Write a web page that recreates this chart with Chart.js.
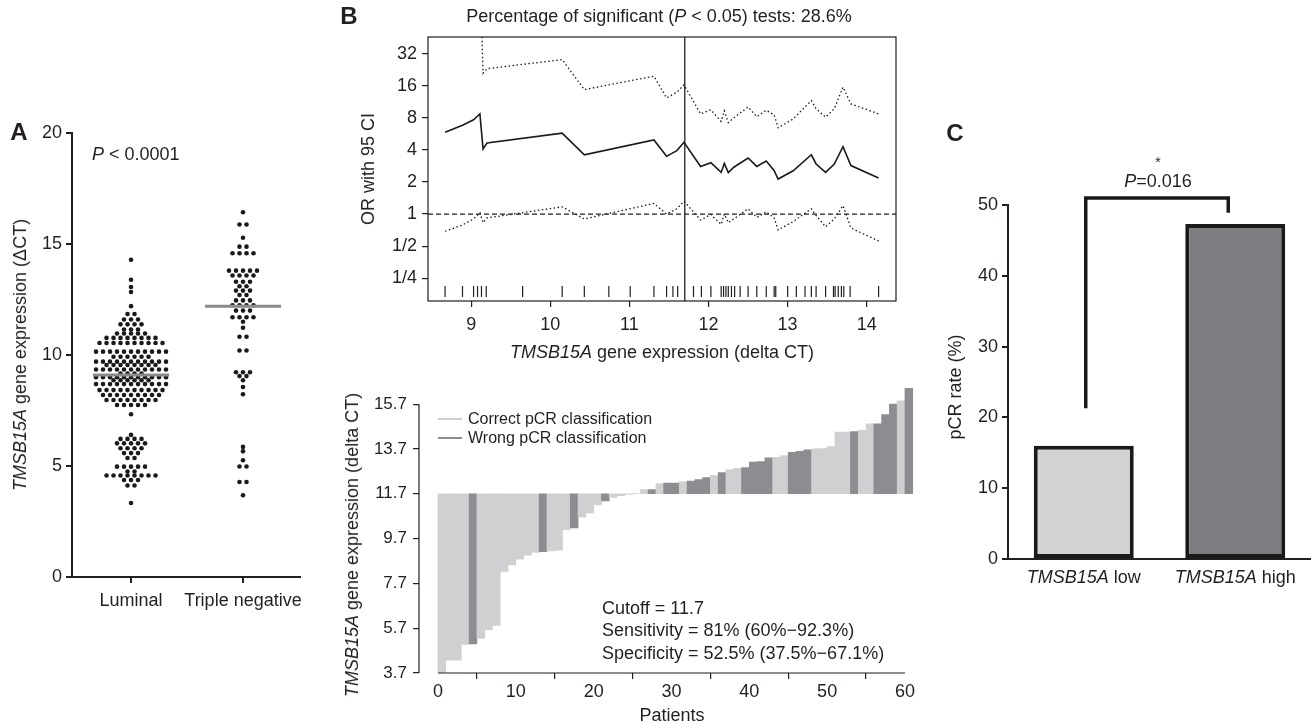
<!DOCTYPE html>
<html>
<head>
<meta charset="utf-8">
<script src="https://cdn.jsdelivr.net/npm/chart.js@4"></script>
<style>
  body { margin: 0; background: #fff; }
  #fig { position: relative; width: 1311px; height: 724px; overflow: hidden; font-family: "Liberation Sans", Arial, sans-serif; color: #231f20; }
  .box { position: absolute; }
  .t { position: absolute; white-space: nowrap; font-size: 18px; line-height: 1; transform: translate(-50%, -50%); z-index: 2; }
  .t.l { transform: translate(0, -50%); }
  .t.rot { transform: translate(-50%, -50%) rotate(-90deg); }
  .panel { font-weight: bold; font-size: 24px; }
  .leg { position: absolute; width: 24px; height: 2px; z-index: 2; }
</style>
</head>
<body>
<div id="fig">
  <div class="box" style="left:0;top:110px;width:320px;height:510px"><canvas id="chartA"></canvas></div>
  <div class="box" style="left:330px;top:0;width:600px;height:370px"><canvas id="chartOR"></canvas></div>
  <div class="box" style="left:330px;top:370px;width:600px;height:354px"><canvas id="chartWaterfall"></canvas></div>
  <div class="box" style="left:940px;top:110px;width:371px;height:500px"><canvas id="chartC"></canvas></div>

  <div class="t panel" style="left:19px;top:132px">A</div>
  <div class="t l" style="left:92px;top:154px"><i>P</i> &lt; 0.0001</div>
  <div class="t rot" style="left:20px;top:355px"><i>TMSB15A</i> gene expression (ΔCT)</div>

  <div class="t panel" style="left:349px;top:16px">B</div>
  <div class="t" style="left:659px;top:16px">Percentage of significant (<i>P</i> &lt; 0.05) tests: 28.6%</div>
  <div class="t rot" style="left:368px;top:169px">OR with 95 CI</div>
  <div class="t" style="left:662px;top:352px"><i>TMSB15A</i> gene expression (delta CT)</div>

  <div class="leg" style="left:438px;top:418px;background:#d0d0d2"></div>
  <div class="t l" style="left:468px;top:419px;font-size:16px">Correct pCR classification</div>
  <div class="leg" style="left:438px;top:437px;background:#8c8c91"></div>
  <div class="t l" style="left:468px;top:438px;font-size:16px">Wrong pCR classification</div>
  <div class="t l" style="left:602px;top:608px">Cutoff = 11.7</div>
  <div class="t l" style="left:602px;top:630px">Sensitivity = 81% (60%−92.3%)</div>
  <div class="t l" style="left:602px;top:653px">Specificity = 52.5% (37.5%−67.1%)</div>
  <div class="t rot" style="left:352px;top:545px"><i>TMSB15A</i> gene expression (delta CT)</div>
  <div class="t" style="left:672px;top:715px">Patients</div>

  <div class="t panel" style="left:955px;top:133px">C</div>
  <div class="t" style="left:1158px;top:162px;font-size:14px">*</div>
  <div class="t" style="left:1158px;top:181px"><i>P</i>=0.016</div>
  <div class="t rot" style="left:955px;top:387px">pCR rate (%)</div>
</div>

<script>
// ---- panel A: dot plot per subtype ----
const groupNames = ['Luminal', 'Triple negative'];
const luminalValues = [
  14.29, 13.39, 13.06, 12.84, 12.2,
  11.85, 11.85,
  11.6, 11.6, 11.6,
  11.38, 11.38, 11.38, 11.38,
  11.15, 11.15, 11.15,
  10.97, 10.97, 10.97, 10.97, 10.97,
  10.77, 10.77, 10.77, 10.77, 10.77, 10.77, 10.77, 10.77,
  10.54, 10.54, 10.54, 10.54, 10.54, 10.54, 10.54, 10.54, 10.54, 10.54,
  10.15, 10.15, 10.15, 10.15, 10.15, 10.15, 10.15, 10.15, 10.15, 10.15, 10.15,
  9.92, 9.92, 9.92, 9.92, 9.92, 9.92,
  9.7, 9.7, 9.7, 9.7, 9.7, 9.7, 9.7, 9.7, 9.7, 9.7, 9.7,
  9.55, 9.55, 9.55, 9.55, 9.55, 9.55, 9.55, 9.55,
  9.35, 9.35, 9.35, 9.35, 9.35, 9.35, 9.35, 9.35, 9.35, 9.35, 9.35,
  9.17, 9.17, 9.17, 9.17,
  9.0, 9.0, 9.0, 9.0, 9.0, 9.0, 9.0, 9.0, 9.0, 9.0, 9.0,
  8.86, 8.86, 8.86, 8.86, 8.86, 8.86,
  8.69, 8.69, 8.69, 8.69, 8.69, 8.69, 8.69, 8.69, 8.69, 8.69, 8.69,
  8.42, 8.42, 8.42, 8.42, 8.42, 8.42, 8.42, 8.42, 8.42, 8.42,
  8.2, 8.2, 8.2, 8.2, 8.2, 8.2, 8.2, 8.2, 8.2,
  7.97, 7.97, 7.97, 7.97, 7.97, 7.97, 7.97, 7.97,
  7.75, 7.75, 7.75, 7.75, 7.75,
  7.33,
  6.4,
  6.22, 6.22, 6.22, 6.22,
  6.02, 6.02, 6.02, 6.02, 6.02,
  5.8, 5.8, 5.8, 5.8,
  5.58, 5.58, 5.58,
  5.36, 5.36,
  4.97, 4.97, 4.97, 4.97, 4.97,
  4.75, 4.75,
  4.57, 4.57, 4.57, 4.57, 4.57, 4.57, 4.57, 4.57,
  4.37, 4.37, 4.37,
  4.12, 4.12,
  3.33
];
const tripleNegValues = [
  16.43, 15.88, 15.88, 15.28, 14.88, 14.88,
  14.58, 14.58, 14.58, 14.58,
  13.8, 13.8, 13.8, 13.8, 13.8,
  13.58, 13.58, 13.58, 13.58,
  13.3, 13.3, 13.3,
  13.1, 13.1,
  12.9, 12.9, 12.9,
  12.7, 12.7,
  12.46, 12.46, 12.46,
  12.24, 12.24, 12.24, 12.24,
  12.0, 12.0, 12.0,
  11.7, 11.7, 11.7, 11.7,
  11.5,
  11.23,
  10.82, 10.82,
  10.2, 10.2,
  9.22, 9.22, 9.22,
  9.05, 9.05,
  8.86, 8.56, 8.23,
  5.86, 5.66, 5.26,
  4.98, 4.98,
  4.28, 4.28,
  3.68
];
const groupMedians = [9.1, 12.2];
const deltaCtTicks = [0, 5, 10, 15, 20];

// ---- panel B (top): OR per cutpoint ----
const cutpoints = [8.67, 8.89, 9.03, 9.11, 9.15, 9.2, 10.15, 10.43, 11.31, 11.47, 11.6, 11.69, 11.9, 12.03, 12.16, 12.2,
  12.25, 12.32, 12.5, 12.61, 12.73, 12.83, 12.88, 13.07, 13.3, 13.36, 13.48, 13.59, 13.7, 13.8, 14.15];
const oddsRatio = [5.86, 6.8, 7.66, 8.7, 4.09, 4.64, 5.74, 3.6, 4.96, 3.48, 3.94, 4.72, 2.79, 3.03, 2.46, 2.99,
  2.45, 2.75, 3.36, 2.8, 3.14, 2.55, 2.13, 2.55, 3.6, 2.95, 2.46, 2.95, 4.29, 2.85, 2.18];
const upperCI = [null, null, null, 200, 21, 23.1, 28.1, 14.7, 19.6, 12.3, 13.9, 16.3, 8.7, 9.5, 7.4, 9.3,
  7.2, 8.0, 10.1, 8.2, 9.4, 8.5, 6.45, 7.8, 11.6, 9.7, 8.1, 9.7, 15.5, 10.8, 8.7];
const lowerCI = [0.69, 0.79, 0.9, 1.03, 0.83, 0.92, 1.17, 0.9, 1.26, 1.0, 1.12, 1.32, 0.88, 0.99, 0.8, 1.0,
  0.83, 0.9, 1.12, 0.93, 1.05, 0.92, 0.71, 0.85, 1.12, 0.97, 0.76, 0.9, 1.2, 0.74, 0.56];
const rugValues = [8.67, 8.89, 9.03, 9.08, 9.13, 9.19, 9.65, 10.15, 10.43, 10.74, 11.01, 11.31, 11.47, 11.55, 11.61,
  11.81, 11.91, 12.03, 12.16, 12.19, 12.22, 12.25, 12.29, 12.33, 12.4, 12.5, 12.61, 12.73, 12.83, 12.85, 13.0,
  13.11, 13.22, 13.3, 13.36, 13.48, 13.58, 13.6, 13.64, 13.68, 13.71, 13.79, 14.15];
const orTicks = [0.25, 0.5, 1, 2, 4, 8, 16, 32];
const orTickLabels = ['1/4', '1/2', '1', '2', '4', '8', '16', '32'];
const exprTicks = [9, 10, 11, 12, 13, 14];
const cutoff = 11.7;

// ---- panel B (bottom): waterfall per patient ----
const patientExpr = [3.73, 4.27, 4.27, 4.97, 5.0, 5.24, 5.63, 5.82, 8.23, 8.52, 8.78, 8.96, 9.08, 9.12, 9.15, 9.18,
  10.1, 10.18, 10.65, 10.84, 11.2, 11.38, 11.54, 11.61, 11.67, 11.71, 11.89, 11.89, 12.15, 12.18, 12.18, 12.23,
  12.27, 12.33, 12.42, 12.52, 12.64, 12.78, 12.84, 12.87, 13.11, 13.14, 13.3, 13.33, 13.4, 13.55, 13.59, 13.66,
  13.71, 13.72, 13.8, 14.45, 14.45, 14.48, 14.53, 14.82, 14.82, 15.23, 15.7, 15.85, 16.4];
const wrongPatients = [4, 13, 17, 21, 27, 29, 30, 32, 33, 34, 36, 39, 40, 41, 42, 45, 46, 47, 53, 56, 57, 58, 60];
const waterfallTicks = [3.7, 5.7, 7.7, 9.7, 11.7, 13.7, 15.7];
const patientTicks = [0, 10, 20, 30, 40, 50, 60];

// ---- panel C: pCR rate ----
const pcrGroups = ['low', 'high'];
const pcrRate = [16.0, 47.3];
const pcrTicks = [0, 10, 20, 30, 40, 50];
const bracketLevels = [21.3, 51, 48.9];

const INK = '#231f20';
const LIGHT = '#d0d0d2';
const DARK = '#8c8c91';
const FONT = '"Liberation Sans", Arial, sans-serif';

Chart.defaults.font.family = FONT;
Chart.defaults.font.size = 18;
Chart.defaults.color = INK;
Chart.defaults.animation = false;
Chart.defaults.plugins.legend.display = false;
Chart.defaults.plugins.tooltip.enabled = false;

function fixWidth(w) { return scale => { scale.width = w; }; }
function fixHeight(h) { return scale => { scale.height = h; }; }
function setTicks(values) { return scale => { scale.ticks = values.map(v => ({ value: v })); }; }
function tickMarks(width) {
  return { drawOnChartArea: false, drawTicks: true, tickLength: 6, color: INK, lineWidth: width };
}

// row swarm: equal values side by side, 7px apart
function swarmPoints(values, center, xScale, spacing) {
  const counts = new Map();
  values.forEach(v => counts.set(v, (counts.get(v) || 0) + 1));
  const cx = xScale.getPixelForValue(center);
  const pts = [];
  counts.forEach((n, v) => {
    for (let k = 0; k < n; k++) {
      pts.push({ x: xScale.getValueForPixel(cx + (k - (n - 1) / 2) * spacing), y: v });
    }
  });
  return pts;
}

// ---------- A ----------
const chartA = new Chart(document.getElementById('chartA'), {
  type: 'scatter',
  data: {
    datasets: [
      ...groupMedians.map((m, i) => ({
        data: [{ x: i + 1 - 0.34, y: m }, { x: i + 1 + 0.34, y: m }],
        showLine: true, borderColor: '#8a8a8c', borderWidth: 3, pointRadius: 0
      })),
      { data: luminalValues.map(v => ({ x: 1, y: v })), pointRadius: 2.3, backgroundColor: '#1a1a1a', borderWidth: 0 },
      { data: tripleNegValues.map(v => ({ x: 2, y: v })), pointRadius: 2.3, backgroundColor: '#1a1a1a', borderWidth: 0 }
    ]
  },
  options: {
    responsive: true, maintainAspectRatio: false,
    layout: { padding: { left: 0, top: 23, right: 20, bottom: 0 } },
    scales: {
      x: {
        type: 'linear', min: 0.473, max: 2.509,
        afterBuildTicks: setTicks([1, 2]), afterFit: fixHeight(43),
        ticks: { padding: 7, callback: (v, i) => groupNames[i] },
        grid: tickMarks(2), border: { display: true, color: INK, width: 2 }
      },
      y: {
        min: 0, max: 20,
        afterBuildTicks: setTicks(deltaCtTicks), afterFit: fixWidth(72),
        ticks: { padding: 4 },
        grid: tickMarks(2), border: { display: true, color: INK, width: 2 }
      }
    }
  }
});
chartA.data.datasets[2].data = swarmPoints(luminalValues, 1, chartA.scales.x, 7);
chartA.data.datasets[3].data = swarmPoints(tripleNegValues, 2, chartA.scales.x, 7);
chartA.update('none');

// ---------- B top ----------
const orXMin = 8.454, orXMax = 14.37, orYMin = 0.153, orYMax = 45.8;
const rugLevel = 0.188;
const boxPlugin = {
  id: 'box',
  afterDraw(chart) {
    const { ctx, chartArea: a } = chart;
    ctx.save();
    ctx.strokeStyle = INK;
    ctx.lineWidth = 1.2;
    ctx.strokeRect(a.left, a.top, a.right - a.left, a.bottom - a.top);
    ctx.restore();
  }
};
const seriesLine = (values, dash, width) => ({
  data: cutpoints.map((x, i) => ({ x, y: values[i] })),
  showLine: true, borderColor: '#1a1a1a', borderWidth: width, borderDash: dash,
  pointRadius: 0, spanGaps: false
});
new Chart(document.getElementById('chartOR'), {
  type: 'scatter',
  data: {
    datasets: [
      seriesLine(oddsRatio, [], 1.6),
      seriesLine(upperCI, [1.5, 2.5], 1.3),
      seriesLine(lowerCI, [1.5, 2.5], 1.3),
      { data: [{ x: cutoff, y: orYMin }, { x: cutoff, y: orYMax }], showLine: true, borderColor: INK, borderWidth: 1.3, pointRadius: 0 },
      { data: [{ x: orXMin, y: 1 }, { x: orXMax, y: 1 }], showLine: true, borderColor: INK, borderWidth: 1.2, borderDash: [5, 3], pointRadius: 0 },
      { data: rugValues.map(x => ({ x, y: rugLevel })), pointStyle: 'line', rotation: 90, radius: 5.5, borderColor: INK, borderWidth: 1.2 }
    ]
  },
  options: {
    responsive: true, maintainAspectRatio: false,
    layout: { padding: { left: 0, top: 37, right: 34, bottom: 0 } },
    scales: {
      x: {
        type: 'linear', min: orXMin, max: orXMax,
        afterBuildTicks: setTicks(exprTicks), afterFit: fixHeight(69),
        ticks: { padding: 7 },
        grid: tickMarks(1.2), border: { display: false }
      },
      y: {
        type: 'logarithmic', min: orYMin, max: orYMax,
        afterBuildTicks: setTicks(orTicks), afterFit: fixWidth(98),
        ticks: { padding: 5, autoSkip: false, callback: (v, i) => orTickLabels[i] },
        grid: tickMarks(1.2), border: { display: false }
      }
    }
  },
  plugins: [boxPlugin]
});

// ---------- B bottom ----------
const rAxesPlugin = {
  id: 'rAxes',
  afterDraw(chart) {
    const { ctx, chartArea: a, scales: { x, y } } = chart;
    ctx.save();
    ctx.strokeStyle = INK;
    ctx.lineWidth = 1.2;
    ctx.beginPath();
    ctx.moveTo(a.left, y.getPixelForValue(waterfallTicks[0]));
    ctx.lineTo(a.left, y.getPixelForValue(waterfallTicks[waterfallTicks.length - 1]));
    ctx.moveTo(x.getPixelForValue(patientTicks[0]), a.bottom);
    ctx.lineTo(x.getPixelForValue(patientTicks[patientTicks.length - 1]), a.bottom);
    ctx.stroke();
    ctx.restore();
  }
};
new Chart(document.getElementById('chartWaterfall'), {
  type: 'bar',
  data: {
    datasets: [{
      data: patientExpr.map((v, i) => ({ x: i + 0.5, y: [cutoff, v] })),
      backgroundColor: patientExpr.map((v, i) => wrongPatients.includes(i) ? DARK : LIGHT),
      borderWidth: 0, barPercentage: 1, categoryPercentage: 1
    }]
  },
  options: {
    responsive: true, maintainAspectRatio: false,
    layout: { padding: { left: 0, top: 11, right: 15, bottom: 0 } },
    scales: {
      x: {
        type: 'linear', min: -2.44, max: 61.29, offset: false,
        afterBuildTicks: setTicks(patientTicks), afterFit: fixHeight(51),
        ticks: { padding: 2 },
        grid: tickMarks(1.2), border: { display: false }
      },
      y: {
        min: 3.7, max: 16.5,
        afterBuildTicks: setTicks(waterfallTicks), afterFit: fixWidth(89),
        ticks: { padding: 6, font: { size: 17 }, callback: v => v.toFixed(1) },
        grid: tickMarks(1.2), border: { display: false }
      }
    }
  },
  plugins: [rAxesPlugin]
});

// ---------- C ----------
const cDecor = {
  id: 'cDecor',
  afterDraw(chart) {
    const { ctx, scales: { x, y } } = chart;
    ctx.save();
    // significance bracket
    const x0 = x.getPixelForValue(0) + 2, x1 = x.getPixelForValue(1) - 7;
    ctx.strokeStyle = '#1a1a1a';
    ctx.lineWidth = 3.5;
    ctx.lineJoin = 'miter';
    ctx.beginPath();
    ctx.moveTo(x0, y.getPixelForValue(bracketLevels[0]));
    ctx.lineTo(x0, y.getPixelForValue(bracketLevels[1]));
    ctx.lineTo(x1, y.getPixelForValue(bracketLevels[1]));
    ctx.lineTo(x1, y.getPixelForValue(bracketLevels[2]));
    ctx.stroke();
    // category labels with italic gene name
    ctx.fillStyle = INK;
    ctx.textBaseline = 'middle';
    const ly = chart.chartArea.bottom + 19;
    pcrGroups.forEach((g, i) => {
      ctx.font = 'italic 18px ' + FONT;
      const w1 = ctx.measureText('TMSB15A').width;
      ctx.font = '18px ' + FONT;
      const w2 = ctx.measureText(' ' + g).width;
      const start = x.getPixelForValue(i) - (w1 + w2) / 2;
      ctx.font = 'italic 18px ' + FONT;
      ctx.fillText('TMSB15A', start, ly);
      ctx.font = '18px ' + FONT;
      ctx.fillText(' ' + g, start + w1, ly);
    });
    ctx.restore();
  }
};
new Chart(document.getElementById('chartC'), {
  type: 'bar',
  data: {
    labels: pcrGroups,
    datasets: [{
      data: pcrRate,
      backgroundColor: ['#d3d3d5', '#7c7d81'],
      borderColor: '#1a1a1a', borderWidth: 4, borderSkipped: false,
      barPercentage: 0.66, categoryPercentage: 1
    }]
  },
  options: {
    responsive: true, maintainAspectRatio: false,
    layout: { padding: { left: 0, top: 95, right: 0, bottom: 0 } },
    scales: {
      x: {
        afterFit: fixHeight(51),
        ticks: { display: false },
        grid: { display: false }, border: { display: true, color: INK, width: 2 }
      },
      y: {
        min: 0, max: 50,
        afterBuildTicks: setTicks(pcrTicks), afterFit: fixWidth(68),
        ticks: { padding: 4 },
        grid: tickMarks(2), border: { display: true, color: INK, width: 2 }
      }
    }
  },
  plugins: [cDecor]
});
</script>
</body>
</html>
